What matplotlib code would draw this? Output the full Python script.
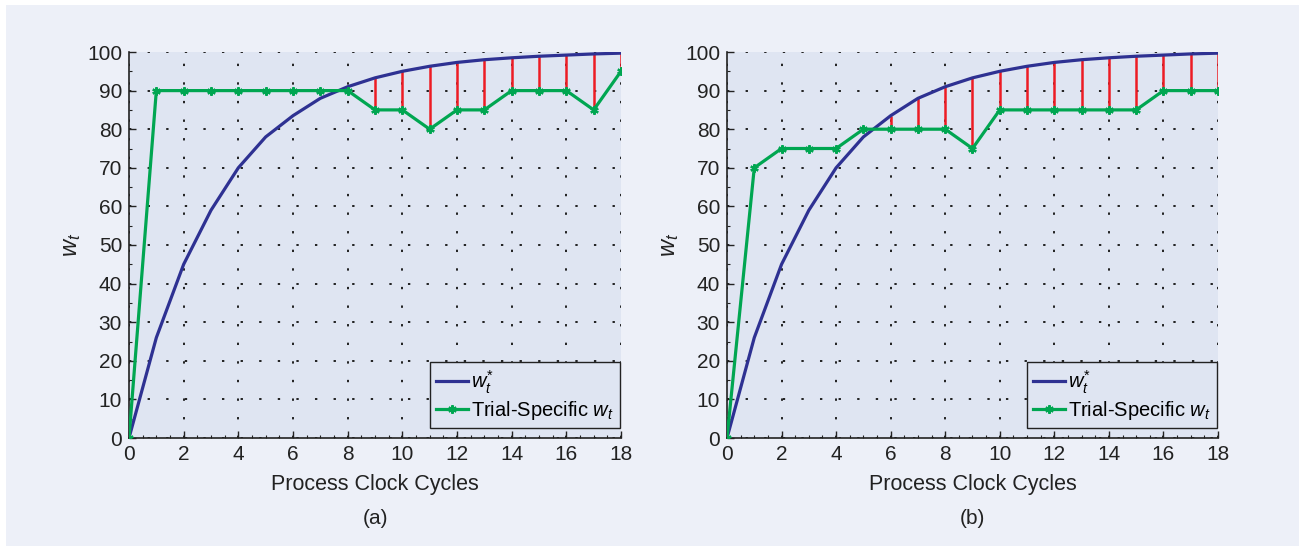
import numpy as np
import matplotlib
matplotlib.use("Agg")
import matplotlib.pyplot as plt
from matplotlib.patches import Rectangle
from matplotlib.ticker import MultipleLocator

plt.rcParams['font.family'] = ['Liberation Sans', 'DejaVu Sans']
plt.rcParams['mathtext.fontset'] = 'custom'
plt.rcParams['mathtext.it'] = 'Liberation Sans:italic'
plt.rcParams['mathtext.rm'] = 'Liberation Sans'

# ---- data ----
cycles = list(range(19))
w_star = [0, 26, 45, 59, 70, 78, 83.5, 88, 91, 93.3, 95, 96.3, 97.3, 98, 98.5, 98.9, 99.2, 99.5, 99.7]
w_trial_a = [0, 90, 90, 90, 90, 90, 90, 90, 90, 85, 85, 80, 85, 85, 90, 90, 90, 85, 95]
w_trial_b = [0, 70, 75, 75, 75, 80, 80, 80, 80, 75, 85, 85, 85, 85, 85, 85, 90, 90, 90]
panel_labels = ['(a)', '(b)']
x_ticks = [0, 2, 4, 6, 8, 10, 12, 14, 16, 18]
y_ticks = [0, 10, 20, 30, 40, 50, 60, 70, 80, 90, 100]
legend_labels = [r'$w_t^{*}$', r'Trial-Specific $w_t$']

BLUE = '#2E3192'
GREEN = '#00A651'
RED = '#ED1C24'
AX_BG = '#DFE5F2'
FIG_BG = '#EDF0F8'
TXT = '#222222'

fig = plt.figure(figsize=(12.99, 5.46), dpi=100, facecolor='white')
fig.patches.append(Rectangle((6/1299, 0), 1, 1 - 5/546, transform=fig.transFigure,
                             facecolor=FIG_BG, edgecolor='none', zorder=-10))

W, H = 1299, 546
axes_px = [(129, 621), (727, 1218)]
top_px, bot_px = 52, 438

for i, (trial, (xl, xr)) in enumerate(zip([w_trial_a, w_trial_b], axes_px)):
    ax = fig.add_axes([xl / W, (H - bot_px) / H, (xr - xl) / W, (bot_px - top_px) / H])
    ax.set_facecolor(AX_BG)
    x = np.array(cycles, dtype=float)
    ws = np.array(w_star, dtype=float)
    wt = np.array(trial, dtype=float)
    mask = ws > wt
    ax.vlines(x[mask], wt[mask], ws[mask], colors=RED, linewidth=1.8, zorder=3)
    l1, = ax.plot(x, ws, color=BLUE, linewidth=2.3, zorder=4, label=legend_labels[0])
    l2, = ax.plot(x, wt, color=GREEN, linewidth=2.3, marker=(6, 2, 0), markersize=6,
                  markeredgewidth=1.6, zorder=5, label=legend_labels[1])
    ax.set_xlim(0, 18)
    ax.set_ylim(0, 100)
    ax.set_xticks(x_ticks)
    ax.set_yticks(y_ticks)
    ax.xaxis.set_minor_locator(MultipleLocator(0.5))
    ax.yaxis.set_minor_locator(MultipleLocator(5))
    ax.tick_params(which='both', direction='in', colors=TXT, labelsize=15, pad=5)
    ax.tick_params(which='major', length=5, width=1)
    ax.tick_params(which='minor', length=2.5, width=0.8)
    ax.grid(True, which='major', linestyle=(0, (1.3, 9)), color='#111111', linewidth=1.3)
    for s in ['top', 'right']:
        ax.spines[s].set_visible(False)
    for s in ['left', 'bottom']:
        ax.spines[s].set_color(TXT)
        ax.spines[s].set_linewidth(1.2)
    ax.set_xlabel('Process Clock Cycles', fontsize=15.5, color=TXT, labelpad=7)
    ax.set_ylabel(r'$w_t$', fontsize=17, color=TXT, labelpad=3)
    w_px = xr - xl
    leg = ax.legend(handles=[l1, l2], loc='lower right',
                    bbox_to_anchor=((w_px - 1) / w_px, 10 / (bot_px - top_px)),
                    fontsize=14.5, fancybox=False,
                    framealpha=1, facecolor=AX_BG, edgecolor=TXT,
                    borderaxespad=0, handlelength=1.6, handletextpad=0.15,
                    labelspacing=0.15, borderpad=0.3)
    leg.get_frame().set_linewidth(1.0)
    fig.text((xl + xr) / 2 / W, 1 - 518 / H, panel_labels[i], ha='center', va='center',
             fontsize=15, color=TXT)

fig.savefig('out.png', dpi=100, facecolor=fig.get_facecolor())
